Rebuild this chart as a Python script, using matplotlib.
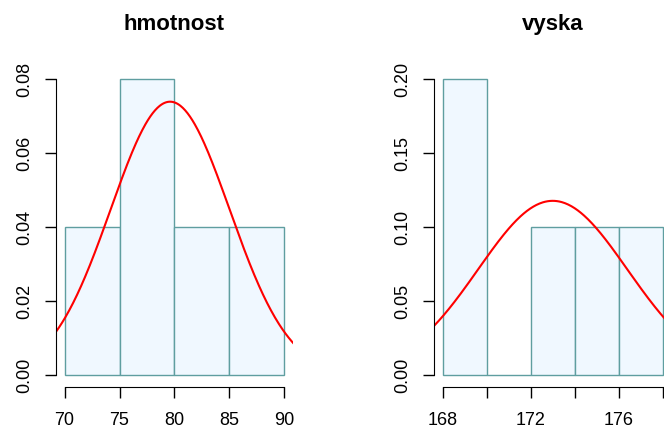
import numpy as np
import matplotlib
matplotlib.use("Agg")
import matplotlib.pyplot as plt

plt.rcParams['font.family'] = ['Liberation Sans', 'DejaVu Sans']

# hmotnost (weight) histogram: bin edges and densities
w_edges = [70, 75, 80, 85, 90]
w_density = [0.04, 0.08, 0.04, 0.04]
w_mean, w_sd = 79.6, 5.4
w_yticks = [0.00, 0.02, 0.04, 0.06, 0.08]
w_xticks = [70, 75, 80, 85, 90]

# vyska (height) histogram
h_edges = [168, 170, 172, 174, 176, 178]
h_density = [0.20, 0.00, 0.10, 0.10, 0.10]
h_mean, h_sd = 173.0, 3.39
h_yticks = [0.00, 0.05, 0.10, 0.15, 0.20]
h_xticks = [168, 170, 172, 174, 176, 178]
h_xlabels = ['168', '', '172', '', '176', '']

fill = '#F0F8FF'
edge = '#5F9EA0'


def panel(ax, edges, dens, mu, sd, yticks, xticks, xlabels, title):
    edges = np.array(edges)
    ax.bar(edges[:-1], dens, width=np.diff(edges), align='edge',
           color=fill, edgecolor=edge, linewidth=1.0)
    xr = edges[-1] - edges[0]
    x0, x1 = edges[0] - 0.04 * xr, edges[-1] + 0.04 * xr
    ymax = max(dens)
    ax.set_xlim(x0, x1)
    ax.set_ylim(-0.04 * ymax, 1.04 * ymax)
    xs = np.linspace(x0, x1, 300)
    ys = np.exp(-0.5 * ((xs - mu) / sd) ** 2) / (sd * np.sqrt(2 * np.pi))
    ax.plot(xs, ys, color='red', lw=1.5)
    for s in ['top', 'right']:
        ax.spines[s].set_visible(False)
    ax.spines['left'].set_bounds(0, ymax)
    ax.spines['bottom'].set_bounds(edges[0], edges[-1])
    ax.set_yticks(yticks)
    ax.set_yticklabels(['%.2f' % v for v in yticks], rotation=90, va='center')
    ax.set_xticks(xticks)
    ax.set_xticklabels(xlabels)
    ax.tick_params(length=8, width=1, labelsize=13, pad=10)
    ax.tick_params(axis='y', pad=8)
    ax.set_title(title, fontsize=16, fontweight='bold', pad=27)


fig = plt.figure(figsize=(6.64, 4.30), dpi=100)
ax1 = fig.add_axes([0.0839, 0.1005, 0.3578, 0.7432])
ax2 = fig.add_axes([0.6535, 0.1005, 0.3578, 0.7432])

panel(ax1, w_edges, w_density, w_mean, w_sd, w_yticks, w_xticks,
      [str(v) for v in w_xticks], 'hmotnost')
panel(ax2, h_edges, h_density, h_mean, h_sd, h_yticks, h_xticks,
      h_xlabels, 'vyska')

fig.savefig('out.png', dpi=100)
